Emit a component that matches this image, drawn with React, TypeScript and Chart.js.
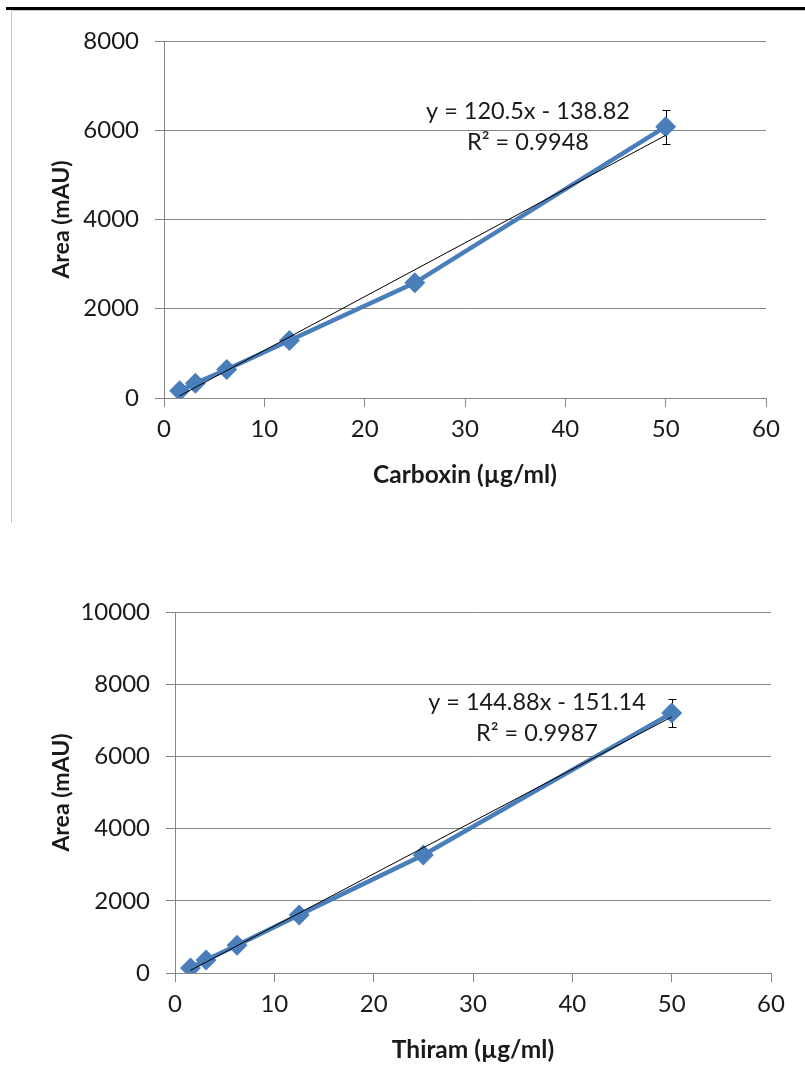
import React, { useEffect, useRef } from "react";
import { Chart, registerables } from "chart.js";

Chart.register(...registerables);

// Standard concentrations (µg/ml) shared by both calibrations
const concentrations = [1.5625, 3.125, 6.25, 12.5, 25, 50];

// Carboxin calibration
const carboxinArea = [160, 330, 640, 1290, 2580, 6080];
const carboxinError = [0, 0, 0, 0, 0, 380];
const carboxinFit = [120.5, -138.82]; // slope, intercept
const carboxinR2 = "0.9948";
const carboxinYTicks = [0, 2000, 4000, 6000, 8000];

// Thiram calibration
const thiramArea = [140, 360, 770, 1610, 3270, 7200];
const thiramError = [0, 0, 0, 0, 0, 390];
const thiramFit = [144.88, -151.14]; // slope, intercept
const thiramR2 = "0.9987";
const thiramYTicks = [0, 2000, 4000, 6000, 8000, 10000];

const xTicks = [0, 10, 20, 30, 40, 50, 60];

const FONT = "Lato, 'Open Sans', 'DejaVu Sans', sans-serif";
const GRID = "#868686";
const BLUE = "#4a7ebb";
const TEXT = "#1a1a1a";

// Vertical error bars with small caps, drawn underneath the markers
const errorBarPlugin = {
  id: "errorBars",
  beforeDatasetsDraw(chart: any) {
    const { ctx, scales } = chart;
    chart.data.datasets.forEach((ds: any) => {
      if (!ds.errors) return;
      ds.data.forEach((pt: any, i: number) => {
        const e = ds.errors[i];
        if (!e) return;
        const x = Math.round(scales.x.getPixelForValue(pt.x)) + 0.5;
        const yTop = Math.round(scales.y.getPixelForValue(pt.y + e)) + 0.5;
        const yBot = Math.round(scales.y.getPixelForValue(pt.y - e)) + 0.5;
        ctx.save();
        ctx.strokeStyle = "#000";
        ctx.lineWidth = 1;
        ctx.beginPath();
        ctx.moveTo(x, yTop);
        ctx.lineTo(x, yBot);
        ctx.moveTo(x - 4, yTop);
        ctx.lineTo(x + 4, yTop);
        ctx.moveTo(x - 4, yBot);
        ctx.lineTo(x + 4, yBot);
        ctx.stroke();
        ctx.restore();
      });
    });
  },
};

// Regression equation and R² printed inside the plot area
const equationPlugin = {
  id: "equation",
  afterDatasetsDraw(chart: any, _args: any, opts: any) {
    const { ctx, chartArea } = chart;
    const [slope, intercept] = opts.fit;
    const sign = intercept < 0 ? "-" : "+";
    const line1 = `y = ${slope}x ${sign} ${Math.abs(intercept)}`;
    const line2 = `R² = ${opts.r2}`;
    ctx.save();
    ctx.fillStyle = TEXT;
    ctx.font = `23.5px ${FONT}`;
    ctx.textAlign = "center";
    ctx.textBaseline = "middle";
    const cx = chartArea.left + opts.dx;
    const cy = chartArea.top + opts.dy;
    ctx.fillText(line1, cx, cy);
    ctx.fillText(line2, cx, cy + 31);
    ctx.restore();
  },
};

type Props = {
  top: number;
  height: number;
  values: number[];
  errors: number[];
  fit: number[];
  r2: string;
  yTicks: number[];
  xTitle: string;
  axisWidth: number;
  padTop: number;
  padRight: number;
  padBottom: number;
  eqDx: number;
  eqDy: number;
};

function CalibrationChart(p: Props) {
  const ref = useRef<HTMLCanvasElement | null>(null);

  useEffect(() => {
    if (!ref.current) return;
    const points = concentrations.map((x, i) => ({ x, y: p.values[i] }));
    const xMin = concentrations[0];
    const xMax = concentrations[concentrations.length - 1];
    const trend = [
      { x: xMin, y: p.fit[0] * xMin + p.fit[1] },
      { x: xMax, y: p.fit[0] * xMax + p.fit[1] },
    ];
    const yMax = p.yTicks[p.yTicks.length - 1];

    const chart = new Chart(ref.current, {
      type: "scatter",
      data: {
        datasets: [
          {
            label: "Linear fit",
            data: trend,
            showLine: true,
            borderColor: "#000",
            borderWidth: 1,
            pointRadius: 0,
          },
          {
            label: "Area",
            data: points,
            errors: p.errors,
            showLine: true,
            borderColor: BLUE,
            borderWidth: 4.5,
            backgroundColor: BLUE,
            pointStyle: "rectRot",
            pointRadius: 10.5,
            pointBorderWidth: 0,
            pointBackgroundColor: BLUE,
          } as any,
        ],
      },
      options: {
        responsive: false,
        animation: false,
        layout: {
          padding: { left: 0, top: p.padTop, right: p.padRight, bottom: p.padBottom },
        },
        plugins: {
          legend: { display: false },
          tooltip: { enabled: false },
          equation: { fit: p.fit, r2: p.r2, dx: p.eqDx, dy: p.eqDy },
        } as any,
        scales: {
          x: {
            type: "linear",
            min: xTicks[0],
            max: xTicks[xTicks.length - 1],
            afterBuildTicks: (s: any) => {
              s.ticks = xTicks.map((v) => ({ value: v }));
            },
            afterFit: (s: any) => {
              s.height = 100;
            },
            grid: {
              drawOnChartArea: false,
              drawTicks: true,
              tickLength: 9,
              color: GRID,
            },
            border: { display: true, color: GRID, width: 1 },
            ticks: {
              color: TEXT,
              font: { family: FONT, size: 24 },
              padding: 8,
              maxRotation: 0,
              callback: (v: any) => String(v),
            },
            title: {
              display: true,
              text: p.xTitle,
              color: TEXT,
              font: { family: FONT, size: 24.5, weight: "bold" },
              padding: { top: 0, bottom: 8 },
            },
          },
          y: {
            type: "linear",
            min: 0,
            max: yMax,
            afterBuildTicks: (s: any) => {
              s.ticks = p.yTicks.map((v) => ({ value: v }));
            },
            ticks: {
              color: TEXT,
              font: { family: FONT, size: 24 },
              padding: 16,
              callback: (v: any) => String(v),
            },
            afterFit: (s: any) => {
              s.width = p.axisWidth;
            },
            grid: {
              drawTicks: true,
              tickLength: 9,
              color: GRID,
            },
            border: { display: true, color: GRID, width: 1 },
            title: {
              display: true,
              text: "Area (mAU)",
              color: TEXT,
              font: { family: FONT, size: 23, weight: "bold" },
              padding: { top: 48, bottom: 0 },
            },
          },
        },
      },
      plugins: [errorBarPlugin, equationPlugin],
    } as any);
    return () => chart.destroy();
  }, []);

  return (
    <canvas
      ref={ref}
      width={805}
      height={p.height}
      style={{ position: "absolute", left: 0, top: p.top, width: 805, height: p.height }}
    />
  );
}

export default function App() {
  return (
    <div style={{ position: "absolute", left: 0, top: 0, width: 805, height: 1091, background: "#fff", overflow: "hidden" }}>
      {/* page rule and frame around the upper figure */}
      <div style={{ position: "absolute", left: 6, top: 7, width: 799, height: 3, background: "#000" }} />
      <div style={{ position: "absolute", left: 11, top: 10, width: 794, height: 1, background: "#c8c8c8" }} />
      <div style={{ position: "absolute", left: 11, top: 10, width: 1, height: 513, background: "#c8c8c8" }} />
      <CalibrationChart
        top={0}
        height={530}
        values={carboxinArea}
        errors={carboxinError}
        fit={carboxinFit}
        r2={carboxinR2}
        yTicks={carboxinYTicks}
        xTitle="Carboxin (µg/ml)"
        axisWidth={164}
        padTop={41}
        padRight={39}
        padBottom={32}
        eqDx={364}
        eqDy={70}
      />
      <CalibrationChart
        top={540}
        height={551}
        values={thiramArea}
        errors={thiramError}
        fit={thiramFit}
        r2={thiramR2}
        yTicks={thiramYTicks}
        xTitle="Thiram (µg/ml)"
        axisWidth={175}
        padTop={72}
        padRight={34}
        padBottom={18}
        eqDx={362}
        eqDy={90}
      />
    </div>
  );
}
